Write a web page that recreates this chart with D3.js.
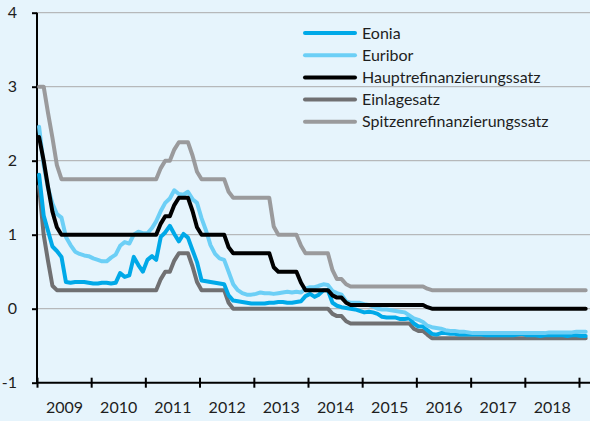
<!DOCTYPE html>
<html>
<head>
<meta charset="utf-8">
<script src="https://cdn.jsdelivr.net/npm/d3@7"></script>
<style>
  html, body { margin: 0; padding: 0; background: #e6f4fc; }
  svg { display: block; }
  text { font-family: 'Lato', 'Open Sans', sans-serif; fill: #1e1e1e; }
</style>
</head>
<body>
<div id="chart"></div>
<script>
// ── Daten: Monatsdurchschnitte Jan 2009 – Feb 2019 ──────────
const startYear = 2009;
const yearLabels = ['2009', '2010', '2011', '2012', '2013', '2014', '2015', '2016', '2017', '2018'];
const yTicks = [-1, 0, 1, 2, 3, 4];

const eonia = [
  1.81, 1.26, 1.06, 0.84, 0.78, 0.70, 0.36, 0.35, 0.36, 0.36, 0.36, 0.35,
  0.34, 0.34, 0.35, 0.35, 0.34, 0.35, 0.48, 0.43, 0.45, 0.70, 0.59, 0.50,
  0.66, 0.71, 0.66, 0.97, 1.03, 1.12, 1.01, 0.91, 1.01, 0.96, 0.79, 0.63,
  0.38, 0.37, 0.36, 0.35, 0.34, 0.33, 0.18, 0.11, 0.10, 0.09, 0.08, 0.07,
  0.07, 0.07, 0.07, 0.08, 0.08, 0.09, 0.09, 0.08, 0.08, 0.09, 0.10, 0.17,
  0.20, 0.16, 0.19, 0.25, 0.25, 0.08, 0.04, 0.02, 0.01, 0.00, -0.01, -0.03,
  -0.05, -0.04, -0.05, -0.07, -0.11, -0.12, -0.12, -0.12, -0.14, -0.14, -0.13, -0.20,
  -0.24, -0.24, -0.29, -0.34, -0.35, -0.33, -0.33, -0.34, -0.34, -0.35, -0.35, -0.35,
  -0.35, -0.35, -0.35, -0.36, -0.36, -0.36, -0.36, -0.36, -0.36, -0.36, -0.35, -0.34,
  -0.36, -0.36, -0.36, -0.37, -0.36, -0.36, -0.36, -0.36, -0.36, -0.37, -0.36, -0.36,
  -0.37, -0.37
];

const euribor = [
  2.46, 1.94, 1.64, 1.42, 1.28, 1.23, 0.97, 0.86, 0.77, 0.74, 0.72, 0.71,
  0.68, 0.66, 0.64, 0.64, 0.69, 0.73, 0.85, 0.90, 0.88, 1.00, 1.04, 1.02,
  1.02, 1.09, 1.18, 1.32, 1.43, 1.49, 1.60, 1.55, 1.54, 1.58, 1.48, 1.43,
  1.22, 1.05, 0.86, 0.74, 0.68, 0.66, 0.50, 0.33, 0.25, 0.21, 0.19, 0.19,
  0.20, 0.22, 0.21, 0.21, 0.20, 0.21, 0.22, 0.23, 0.22, 0.23, 0.22, 0.27,
  0.29, 0.29, 0.31, 0.33, 0.32, 0.24, 0.21, 0.19, 0.10, 0.08, 0.08, 0.08,
  0.06, 0.05, 0.03, 0.00, -0.01, -0.01, -0.02, -0.03, -0.04, -0.05, -0.09, -0.13,
  -0.15, -0.18, -0.23, -0.25, -0.26, -0.27, -0.29, -0.30, -0.30, -0.31, -0.31, -0.32,
  -0.33, -0.33, -0.33, -0.33, -0.33, -0.33, -0.33, -0.33, -0.33, -0.33, -0.33, -0.33,
  -0.33, -0.33, -0.33, -0.33, -0.33, -0.32, -0.32, -0.32, -0.32, -0.32, -0.32, -0.31,
  -0.31, -0.31
];

const hauptrefi = [
  2.32, 2.00, 1.66, 1.31, 1.10, 1.00, 1.00, 1.00, 1.00, 1.00, 1.00, 1.00,
  1.00, 1.00, 1.00, 1.00, 1.00, 1.00, 1.00, 1.00, 1.00, 1.00, 1.00, 1.00,
  1.00, 1.00, 1.00, 1.15, 1.25, 1.25, 1.40, 1.50, 1.50, 1.50, 1.32, 1.10,
  1.00, 1.00, 1.00, 1.00, 1.00, 1.00, 0.83, 0.75, 0.75, 0.75, 0.75, 0.75,
  0.75, 0.75, 0.75, 0.75, 0.56, 0.50, 0.50, 0.50, 0.50, 0.50, 0.35, 0.25,
  0.25, 0.25, 0.25, 0.25, 0.25, 0.18, 0.15, 0.15, 0.08, 0.05, 0.05, 0.05,
  0.05, 0.05, 0.05, 0.05, 0.05, 0.05, 0.05, 0.05, 0.05, 0.05, 0.05, 0.05,
  0.05, 0.05, 0.02, 0.00, 0.00, 0.00, 0.00, 0.00, 0.00, 0.00, 0.00, 0.00,
  0.00, 0.00, 0.00, 0.00, 0.00, 0.00, 0.00, 0.00, 0.00, 0.00, 0.00, 0.00,
  0.00, 0.00, 0.00, 0.00, 0.00, 0.00, 0.00, 0.00, 0.00, 0.00, 0.00, 0.00,
  0.00, 0.00
];

const einlage = [
  1.65, 1.00, 0.66, 0.31, 0.25, 0.25, 0.25, 0.25, 0.25, 0.25, 0.25, 0.25,
  0.25, 0.25, 0.25, 0.25, 0.25, 0.25, 0.25, 0.25, 0.25, 0.25, 0.25, 0.25,
  0.25, 0.25, 0.25, 0.40, 0.50, 0.50, 0.65, 0.75, 0.75, 0.75, 0.57, 0.36,
  0.25, 0.25, 0.25, 0.25, 0.25, 0.25, 0.08, 0.00, 0.00, 0.00, 0.00, 0.00,
  0.00, 0.00, 0.00, 0.00, 0.00, 0.00, 0.00, 0.00, 0.00, 0.00, 0.00, 0.00,
  0.00, 0.00, 0.00, 0.00, 0.00, -0.07, -0.10, -0.10, -0.17, -0.20, -0.20, -0.20,
  -0.20, -0.20, -0.20, -0.20, -0.20, -0.20, -0.20, -0.20, -0.20, -0.20, -0.20, -0.27,
  -0.30, -0.30, -0.35, -0.40, -0.40, -0.40, -0.40, -0.40, -0.40, -0.40, -0.40, -0.40,
  -0.40, -0.40, -0.40, -0.40, -0.40, -0.40, -0.40, -0.40, -0.40, -0.40, -0.40, -0.40,
  -0.40, -0.40, -0.40, -0.40, -0.40, -0.40, -0.40, -0.40, -0.40, -0.40, -0.40, -0.40,
  -0.40, -0.40
];

const spitzenrefi = [
  3.00, 3.00, 2.66, 2.31, 1.94, 1.75, 1.75, 1.75, 1.75, 1.75, 1.75, 1.75,
  1.75, 1.75, 1.75, 1.75, 1.75, 1.75, 1.75, 1.75, 1.75, 1.75, 1.75, 1.75,
  1.75, 1.75, 1.75, 1.90, 2.00, 2.00, 2.15, 2.25, 2.25, 2.25, 2.07, 1.85,
  1.75, 1.75, 1.75, 1.75, 1.75, 1.75, 1.58, 1.50, 1.50, 1.50, 1.50, 1.50,
  1.50, 1.50, 1.50, 1.50, 1.11, 1.00, 1.00, 1.00, 1.00, 1.00, 0.85, 0.75,
  0.75, 0.75, 0.75, 0.75, 0.75, 0.52, 0.40, 0.40, 0.33, 0.30, 0.30, 0.30,
  0.30, 0.30, 0.30, 0.30, 0.30, 0.30, 0.30, 0.30, 0.30, 0.30, 0.30, 0.30,
  0.30, 0.30, 0.27, 0.25, 0.25, 0.25, 0.25, 0.25, 0.25, 0.25, 0.25, 0.25,
  0.25, 0.25, 0.25, 0.25, 0.25, 0.25, 0.25, 0.25, 0.25, 0.25, 0.25, 0.25,
  0.25, 0.25, 0.25, 0.25, 0.25, 0.25, 0.25, 0.25, 0.25, 0.25, 0.25, 0.25,
  0.25, 0.25
];

// Reihenfolge = Legende; gezeichnet wird nach "z"
const series = [
  { name: 'Eonia',                      values: eonia,       color: '#00a9e8', z: 2 },
  { name: 'Euribor',                    values: euribor,     color: '#6ccff6', z: 3 },
  { name: 'Hauptrefinanzierungssatz',   values: hauptrefi,   color: '#000000', z: 4 },
  { name: 'Einlagesatz',                values: einlage,     color: '#707072', z: 0 },
  { name: 'Spitzenrefinanzierungssatz', values: spitzenrefi, color: '#9a9a9c', z: 1 },
];

// ── Layout ───────────────────────────────────────────────
const W = 590, H = 421;
const plot = { left: 37, right: 579, top: 12.7, bottom: 382.7 };

const svg = d3.select('#chart').append('svg')
  .attr('width', W).attr('height', H)
  .style('background', '#e6f4fc');

const x = d3.scaleTime()
  .domain([new Date(startYear, 0, 1), new Date(startYear + yearLabels.length, 0, 1)])
  .range([plot.left, plot.right]);

const y = d3.scaleLinear()
  .domain([-1, 4])
  .range([plot.bottom, plot.top]);

const dateOf = i => new Date(startYear, i, 15);

// ── Gitterlinien ─────────────────────────────────────────
svg.append('g')
  .selectAll('line')
  .data(yTicks.filter(v => v > -1))
  .join('line')
  .attr('x1', plot.left).attr('x2', W)
  .attr('y1', d => y(d)).attr('y2', d => y(d))
  .attr('stroke', '#aaaaaa')
  .attr('stroke-width', 1);

// ── Y-Achse ──────────────────────────────────────────────
const yAxis = svg.append('g')
  .attr('transform', `translate(${plot.left},0)`)
  .call(d3.axisLeft(y).tickValues(yTicks).tickSize(5).tickPadding(15).tickFormat(d => String(d)));
yAxis.select('.domain').remove();
yAxis.selectAll('.tick line').attr('stroke', '#000').attr('stroke-width', 2);
yAxis.selectAll('.tick text')
  .attr('font-size', 16)
  .attr('font-family', null)
  .attr('fill', '#1e1e1e');

svg.append('line')
  .attr('x1', plot.left).attr('x2', plot.left)
  .attr('y1', plot.top).attr('y2', plot.bottom)
  .attr('stroke', '#000').attr('stroke-width', 2);

// ── X-Achse ──────────────────────────────────────────────
const yearStarts = d3.range(yearLabels.length + 1).map(i => new Date(startYear + i, 0, 1));
const xAxis = svg.append('g')
  .attr('transform', `translate(0,${plot.bottom})`)
  .call(d3.axisBottom(x).tickValues(yearStarts).tickSize(5).tickFormat(''));
xAxis.select('.domain').remove();
xAxis.selectAll('.tick line')
  .attr('y1', -5).attr('y2', 5)
  .attr('stroke', '#000').attr('stroke-width', 2);

const midYears = yearLabels.map((_, i) => new Date(startYear + i, 6, 2));
const xLabels = svg.append('g')
  .attr('transform', `translate(0,${plot.bottom})`)
  .call(d3.axisBottom(x).tickValues(midYears).tickSize(0).tickPadding(19)
    .tickFormat((d, i) => yearLabels[i]));
xLabels.select('.domain').remove();
xLabels.selectAll('.tick text')
  .attr('font-size', 16)
  .attr('font-family', null)
  .attr('fill', '#1e1e1e');

svg.append('line')
  .attr('x1', plot.left - 1).attr('x2', W)
  .attr('y1', plot.bottom).attr('y2', plot.bottom)
  .attr('stroke', '#000').attr('stroke-width', 2);

// ── Linien ───────────────────────────────────────────────
const line = d3.line()
  .x((d, i) => x(dateOf(i)))
  .y(d => y(d));

svg.append('g')
  .selectAll('path')
  .data(series.slice().sort((a, b) => a.z - b.z))
  .join('path')
  .attr('d', d => line(d.values))
  .attr('fill', 'none')
  .attr('stroke', d => d.color)
  .attr('stroke-width', 4)
  .attr('stroke-linejoin', 'round')
  .attr('stroke-linecap', 'round');

// ── Legende ──────────────────────────────────────────────
const legend = svg.append('g').attr('transform', 'translate(303,33)');
const item = legend.selectAll('g')
  .data(series)
  .join('g')
  .attr('transform', (d, i) => `translate(0,${i * 22.2})`);
item.append('line')
  .attr('x1', 2).attr('x2', 52)
  .attr('stroke', d => d.color)
  .attr('stroke-width', 4)
  .attr('stroke-linecap', 'round');
item.append('text')
  .attr('x', 59)
  .attr('dy', '0.35em')
  .attr('font-size', 16)
  .text(d => d.name);
</script>
</body>
</html>
